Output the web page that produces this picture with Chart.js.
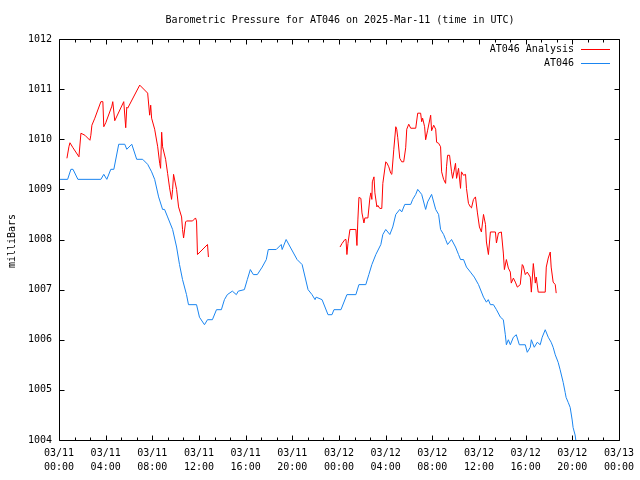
<!DOCTYPE html>
<html><head><meta charset="utf-8">
<script src="https://cdn.jsdelivr.net/npm/chart.js@4/dist/chart.umd.min.js"></script>
<style>html,body{margin:0;padding:0;background:#fff;}canvas{display:block}</style>
</head><body>
<canvas id="c" width="640" height="480"></canvas>
<script>
const titleText = "Barometric Pressure for AT046 on 2025-Mar-11 (time in UTC)";
const yAxisTitle = "milliBars";
const seriesNames = ["AT046 Analysis", "AT046"];
const seriesColors = ["#ff0000", "#1a85f0"];

const xTickHours = [0,4,8,12,16,20,24,28,32,36,40,44,48];
const xTickLabels = [
  ["03/11","00:00"],["03/11","04:00"],["03/11","08:00"],["03/11","12:00"],["03/11","16:00"],["03/11","20:00"],
  ["03/12","00:00"],["03/12","04:00"],["03/12","08:00"],["03/12","12:00"],["03/12","16:00"],["03/12","20:00"],
  ["03/13","00:00"]
];
const yTicks = [1004,1005,1006,1007,1008,1009,1010,1011,1012];

// hours since 03/11 00:00 UTC
const analysisHours = [
  0.68,0.85,0.94,1.2,1.71,1.88,2.22,2.65,2.73,2.82,
  3.07,3.59,3.76,3.84,4.01,4.53,4.61,4.78,5.55,5.72,
  5.81,5.89,6.92,7.6,7.77,7.86,7.94,8.2,8.46,8.63,
  8.71,8.8,8.88,9.14,9.31,9.48,9.65,9.74,9.82,10.08,
  10.25,10.51,10.59,10.68,10.85,10.93,11.45,11.7,11.79,11.87,
  12.73,12.81,18,
  24.09,24.26,24.51,24.6,24.68,24.77,24.94,25.45,25.54,25.62,
  25.71,25.88,25.97,26.14,26.22,26.48,26.65,26.73,26.82,26.86,
  27.0,27.08,27.25,27.33,27.5,27.67,27.76,28.01,28.1,28.27,
  28.44,28.53,28.7,28.87,28.95,29.04,29.21,29.38,29.55,29.72,
  29.81,29.98,30.15,30.58,30.75,31.0,31.09,31.17,31.34,31.43,
  31.6,31.86,31.94,32.12,32.29,32.37,32.54,32.71,32.8,32.97,
  33.14,33.22,33.31,33.48,33.65,33.74,33.99,34.08,34.25,34.42,
  34.5,34.68,34.85,34.93,35.1,35.27,35.36,35.53,35.7,35.87,
  36.04,36.21,36.39,36.56,36.64,36.81,36.98,37.41,37.5,37.67,
  37.92,38.09,38.18,38.35,38.52,38.69,38.77,38.95,39.12,39.29,
  39.54,39.71,39.8,39.97,40.14,40.4,40.49,40.66,40.83,40.91,
  41.08,41.68,41.77,41.94,42.11,42.19,42.36,42.54,42.62
];
const analysisValues = [
  1009.62,1009.85,1009.93,1009.83,1009.65,1010.12,1010.08,1009.98,1010.08,1010.28,
  1010.42,1010.75,1010.75,1010.25,1010.33,1010.66,1010.75,1010.37,1010.75,1010.23,
  1010.64,1010.62,1011.08,1010.92,1010.48,1010.68,1010.42,1010.2,1009.85,1009.52,
  1009.42,1010.14,1009.85,1009.6,1009.32,1009.03,1008.8,1009.0,1009.3,1009.0,
  1008.65,1008.45,1008.2,1008.03,1008.35,1008.37,1008.37,1008.43,1008.37,1007.7,
  1007.9,1007.65,null,
  1007.85,1007.92,1008.0,1008.0,1007.7,1007.92,1008.2,1008.2,1007.88,1008.39,
  1008.84,1008.82,1008.53,1008.33,1008.43,1008.43,1008.83,1008.93,1008.8,1009.15,
  1009.25,1008.93,1008.65,1008.68,1008.62,1008.62,1009.12,1009.55,1009.53,1009.45,
  1009.32,1009.3,1009.8,1010.25,1010.2,1010.03,1009.62,1009.55,1009.55,1009.83,
  1010.2,1010.3,1010.22,1010.22,1010.52,1010.52,1010.35,1010.42,1010.25,1009.99,
  1010.18,1010.48,1010.17,1010.28,1010.2,1009.94,1009.92,1009.85,1009.35,1009.2,
  1009.12,1009.45,1009.68,1009.68,1009.35,1009.22,1009.52,1009.22,1009.42,1009.02,
  1009.35,1009.28,1009.3,1009.02,1008.72,1008.65,1008.63,1008.8,1008.85,1008.53,
  1008.25,1008.15,1008.5,1008.3,1007.95,1007.7,1008.15,1008.15,1007.93,1008.13,
  1008.15,1007.73,1007.4,1007.6,1007.43,1007.35,1007.13,1007.23,1007.15,1007.05,
  1007.1,1007.5,1007.47,1007.3,1007.35,1007.25,1006.95,1007.52,1007.13,1007.25,
  1006.95,1006.95,1007.45,1007.63,1007.75,1007.45,1007.15,1007.1,1006.93
];

const stationHours = [
  0.09,0.74,1.02,1.2,1.62,3.59,3.84,4.1,4.44,4.7,
  5.12,5.64,5.81,6.24,6.66,7.17,7.6,7.94,8.2,8.54,
  8.88,9.05,9.31,9.74,10.08,10.33,10.59,10.93,11.1,11.79,
  12.04,12.47,12.73,13.15,13.5,13.92,14.18,14.43,14.86,15.2,
  15.37,15.89,16.14,16.4,16.66,17.0,17.42,17.77,17.94,18.62,
  19.05,19.13,19.47,19.82,20.41,20.84,21.35,21.69,21.95,22.04,
  22.55,23.06,23.4,23.57,24.17,24.68,25.45,25.71,26.3,26.56,
  26.82,27.16,27.59,27.76,28.01,28.36,28.61,28.87,29.21,29.38,
  29.64,30.15,30.32,30.58,30.75,31.09,31.43,31.6,31.94,32.29,
  32.54,32.71,32.97,33.14,33.31,33.65,33.99,34.25,34.42,34.68,
  34.93,35.27,35.6,35.96,36.39,36.64,36.8,36.98,37.24,37.5,
  37.84,38.09,38.26,38.35,38.52,38.69,38.95,39.2,39.46,39.97,
  40.14,40.4,40.49,40.74,41.0,41.25,41.42,41.68,41.94,42.19,
  42.36,42.54,42.79,42.96,43.22,43.39,43.47,43.65,43.82,43.99,
  44.07,44.24,44.33
];
const stationValues = [
  1009.2,1009.2,1009.4,1009.4,1009.2,1009.2,1009.3,1009.2,1009.4,1009.4,
  1009.9,1009.9,1009.8,1009.9,1009.6,1009.6,1009.5,1009.35,1009.2,1008.85,
  1008.6,1008.6,1008.45,1008.2,1007.85,1007.5,1007.2,1006.9,1006.7,1006.7,
  1006.45,1006.3,1006.4,1006.4,1006.6,1006.6,1006.8,1006.9,1006.97,1006.9,
  1006.97,1007.0,1007.2,1007.4,1007.3,1007.3,1007.45,1007.6,1007.8,1007.8,
  1007.9,1007.8,1008.0,1007.85,1007.6,1007.5,1007.0,1006.9,1006.8,1006.85,
  1006.8,1006.5,1006.5,1006.6,1006.6,1006.9,1006.9,1007.1,1007.1,1007.3,
  1007.5,1007.7,1007.9,1008.1,1008.2,1008.1,1008.25,1008.5,1008.6,1008.55,
  1008.7,1008.7,1008.8,1008.9,1009.0,1008.9,1008.6,1008.75,1008.9,1008.6,
  1008.5,1008.2,1008.1,1008.0,1007.9,1008.0,1007.85,1007.7,1007.6,1007.6,
  1007.45,1007.35,1007.25,1007.1,1006.85,1006.75,1006.8,1006.7,1006.7,1006.6,
  1006.45,1006.4,1006.1,1005.9,1006.0,1005.9,1006.05,1006.1,1005.9,1005.9,
  1005.75,1005.85,1006.0,1005.85,1005.95,1005.9,1006.05,1006.2,1006.05,1005.95,
  1005.85,1005.7,1005.55,1005.4,1005.15,1004.95,1004.85,1004.75,1004.65,1004.4,
  1004.25,1004.1,1003.95
];

const FONT = "DejaVu Sans Mono";
Chart.defaults.font.family = FONT;
Chart.defaults.font.size = 10;
Chart.defaults.color = "#000";

const toPoints = (hs, vs) => hs.map((h, i) => ({ x: h, y: vs[i] }));

const framePlugin = {
  id: "frame",
  afterDraw(chart) {
    const { ctx, chartArea: a, scales: { x, y } } = chart;
    const L = Math.round(a.left) + 0.5, R = Math.round(a.right) + 0.5;
    const T = Math.round(a.top) + 0.5, B = Math.round(a.bottom) + 0.5;
    ctx.save();
    ctx.strokeStyle = "#000";
    ctx.lineWidth = 1;
    ctx.beginPath();
    ctx.rect(L, T, R - L, B - T);
    for (let i = 0; i < xTickHours.length; i++) {
      const h = xTickHours[i];
      const px = Math.round(x.getPixelForValue(h)) + 0.5;
      ctx.moveTo(px, B); ctx.lineTo(px, B - 5);
      ctx.moveTo(px, T); ctx.lineTo(px, T + 5);
      if (i < xTickHours.length - 1) {
        const step = (xTickHours[i + 1] - h) / 3;
        for (let k = 1; k < 3; k++) {
          const mx = Math.round(x.getPixelForValue(h + k * step)) + 0.5;
          ctx.moveTo(mx, B); ctx.lineTo(mx, B - 3);
          ctx.moveTo(mx, T); ctx.lineTo(mx, T + 3);
        }
      }
    }
    yTicks.forEach(v => {
      const py = Math.round(y.getPixelForValue(v)) + 0.5;
      ctx.moveTo(L, py); ctx.lineTo(L + 5, py);
      ctx.moveTo(R, py); ctx.lineTo(R - 5, py);
    });
    ctx.stroke();

    ctx.fillStyle = "#000";
    ctx.font = "10px '" + FONT + "'";
    ctx.textAlign = "center";
    ctx.textBaseline = "middle";
    ctx.fillText(titleText, 340, 20);
    ctx.save();
    ctx.translate(12, 241);
    ctx.rotate(-Math.PI / 2);
    ctx.fillText(yAxisTitle, 0, 0);
    ctx.restore();
    chart.data.datasets.forEach((ds, i) => {
      const ly = 49 + i * 14;
      ctx.textAlign = "right";
      ctx.fillStyle = "#000";
      ctx.fillText(ds.label, 574, ly);
      ctx.strokeStyle = ds.borderColor;
      ctx.beginPath();
      ctx.moveTo(581, ly + 0.5);
      ctx.lineTo(610, ly + 0.5);
      ctx.stroke();
    });
    ctx.restore();
  }
};

new Chart(document.getElementById("c"), {
  type: "line",
  data: {
    datasets: [
      { label: seriesNames[0], data: toPoints(analysisHours, analysisValues), borderColor: seriesColors[0],
        borderWidth: 1, pointRadius: 0, tension: 0, spanGaps: false, fill: false },
      { label: seriesNames[1], data: toPoints(stationHours, stationValues), borderColor: seriesColors[1],
        borderWidth: 1, pointRadius: 0, tension: 0, spanGaps: false, fill: false }
    ]
  },
  options: {
    responsive: false,
    animation: false,
    devicePixelRatio: 1,
    layout: { padding: { left: 0, right: 19, top: 39, bottom: 0 } },
    plugins: { legend: { display: false }, title: { display: false }, tooltip: { enabled: false } },
    scales: {
      x: {
        type: "linear", min: 0, max: 48,
        grid: { display: false, drawTicks: false },
        border: { display: false },
        afterBuildTicks: s => { s.ticks = xTickHours.map(v => ({ value: v })); },
        afterFit: s => { s.height = 40; },
        ticks: {
          autoSkip: false, maxRotation: 0, padding: 6,
          font: { size: 10, lineHeight: 1.4 },
          callback: v => xTickLabels[xTickHours.indexOf(v)]
        }
      },
      y: {
        min: 1004, max: 1012,
        grid: { display: false, drawTicks: false },
        border: { display: false },
        afterBuildTicks: s => { s.ticks = yTicks.map(v => ({ value: v })); },
        afterFit: s => { s.width = 59; },
        ticks: { padding: 7, font: { size: 10 }, callback: v => String(v) }
      }
    }
  },
  plugins: [framePlugin]
});
</script>
</body></html>
